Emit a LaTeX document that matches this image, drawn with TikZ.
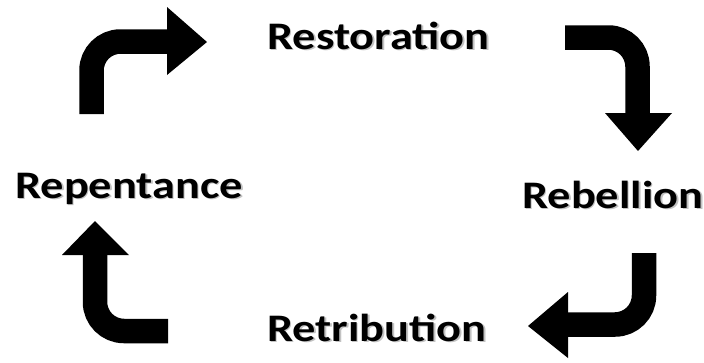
\documentclass[tikz,border=0pt]{standalone}
\usepackage{fontspec}
\setmainfont{Carlito}
\newcommand{\wordtxt}[1]{\scalebox{1.19}[1]{#1}}
\begin{document}
\begin{tikzpicture}[x=1pt,y=-1pt,
  shaft/.style={line width=24.5pt, rounded corners=29pt, line cap=butt, line join=miter},
  headtip/.style={fill=black},
  label/.style={font=\fontsize{39}{42}\selectfont\bfseries, inner sep=0pt, anchor=base west, text=black},
  shadowlabel/.style={label, text=black!40, opacity=0.6}]
\useasboundingbox (0,0) rectangle (704,362);
% arrow 1 (top-left)
\coordinate (a1s) at (91.5,114);
\coordinate (a1c) at (91.5,41.5);
\coordinate (a1e) at (168,41.5);
\draw[shaft] (a1s) -- (a1c) -- (a1e);
\fill[headtip] (167,7) -- (207,42) -- (167,75) -- cycle;
% arrow 2 (top-right)
\coordinate (a2s) at (565,37.5);
\coordinate (a2c) at (637.5,37.5);
\coordinate (a2e) at (637.5,114);
\draw[shaft] (a2s) -- (a2c) -- (a2e);
\fill[headtip] (605,113) -- (672,113) -- (638,151) -- cycle;
% arrow 3 (bottom-right)
\coordinate (a3s) at (644,253);
\coordinate (a3c) at (644,324.5);
\coordinate (a3e) at (567,324.5);
\draw[shaft] (a3s) -- (a3c) -- (a3e);
\fill[headtip] (568,292) -- (528,326) -- (568,358) -- cycle;
% arrow 4 (bottom-left)
\coordinate (a4s) at (168,331);
\coordinate (a4c) at (95,331);
\coordinate (a4e) at (95,254);
\draw[shaft] (a4s) -- (a4c) -- (a4e);
\fill[headtip] (62,255) -- (95,221) -- (129,255) -- cycle;
% labels with soft shadows
\node[shadowlabel] at (268.5,50.5) {\wordtxt{Restoration}};
\node[label] (rest) at (267,49) {\wordtxt{Restoration}};
\node[shadowlabel] at (523.5,209.5) {\wordtxt{Rebellion}};
\node[label] (rebe) at (522,208) {\wordtxt{Rebellion}};
\node[shadowlabel] at (268.5,342.5) {\wordtxt{Retribution}};
\node[label] (retr) at (267,341) {\wordtxt{Retribution}};
\node[shadowlabel] at (16.5,199.5) {\wordtxt{Repentance}};
\node[label] (repe) at (15,198) {\wordtxt{Repentance}};
\end{tikzpicture}
\end{document}
